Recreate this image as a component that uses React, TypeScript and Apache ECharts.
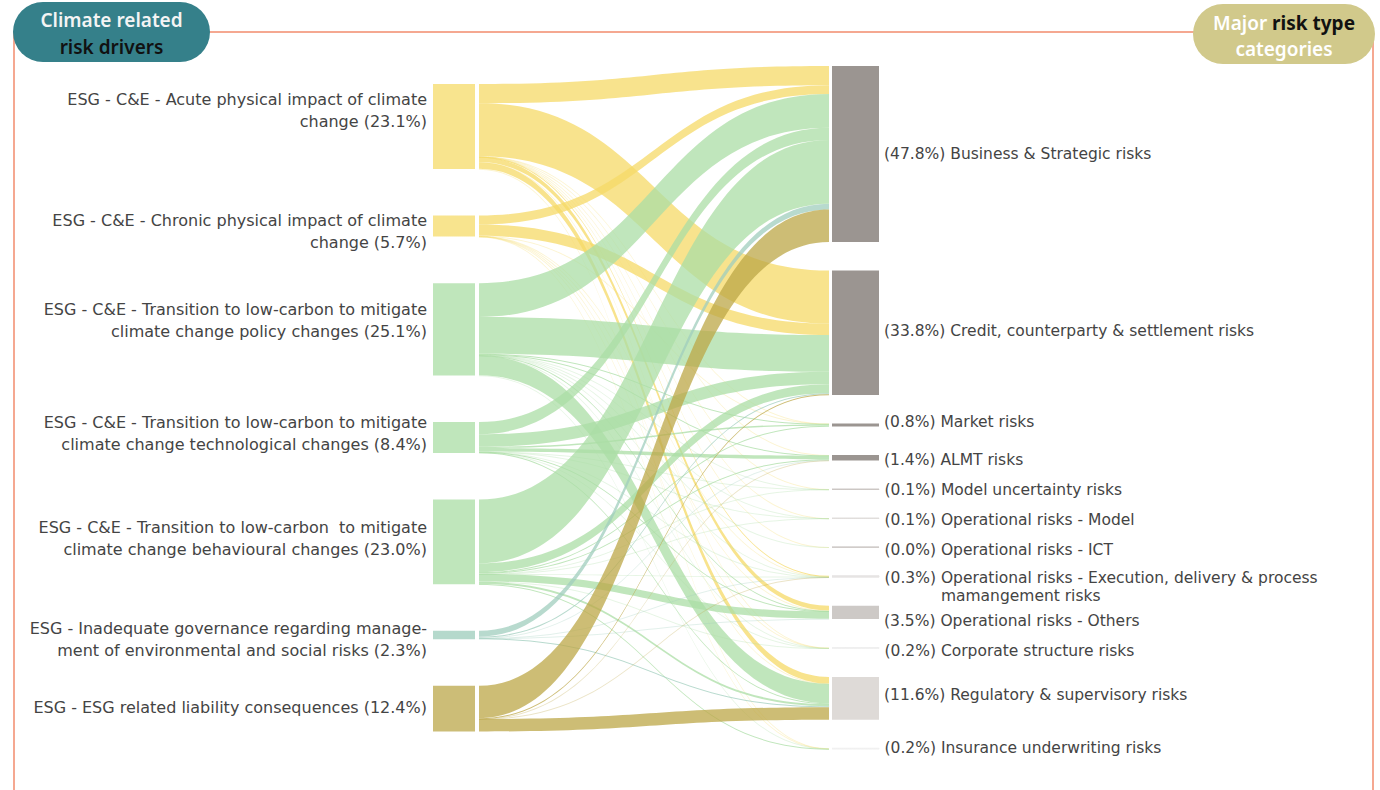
import React, { useEffect, useRef } from 'react';
import * as echarts from 'echarts';

// ---------- DATA ----------
const LEFT_LABELS = [
  'ESG - C&E - Acute physical impact of climate\nchange',
  'ESG - C&E - Chronic physical impact of climate\nchange',
  'ESG - C&E - Transition to low-carbon to mitigate\nclimate change policy changes',
  'ESG - C&E - Transition to low-carbon to mitigate\nclimate change technological changes',
  'ESG - C&E - Transition to low-carbon  to mitigate\nclimate change behavioural changes',
  'ESG - Inadequate governance regarding manage-\nment of environmental and social risks',
  'ESG - ESG related liability consequences',
];
const LEFT_PCT = [23.1, 5.7, 25.1, 8.4, 23.0, 2.3, 12.4];

const RIGHT_LABELS = [
  'Business & Strategic risks',
  'Credit, counterparty & settlement risks',
  'Market risks',
  'ALMT risks',
  'Model uncertainty risks',
  'Operational risks - Model',
  'Operational risks - ICT',
  'Operational risks - Execution, delivery & process\nmamangement risks',
  'Operational risks - Others',
  'Corporate structure risks',
  'Regulatory & supervisory risks',
  'Insurance underwriting risks',
];
const RIGHT_PCT = [47.8, 33.8, 0.8, 1.4, 0.1, 0.1, 0.0, 0.3, 3.5, 0.2, 11.6, 0.2];

// flows from each driver to each risk category (same order as RIGHT_LABELS), in %
const FLOW_ACUTE = [5.2, 14.4, 0.05, 0.05, 0.02, 0.02, 0.01, 0.15, 1.3, 0.05, 1.8, 0.05];
const FLOW_CHRONIC = [2.4, 3.1, 0.02, 0, 0, 0, 0, 0.05, 0.05, 0.02, 0.05, 0.01];
const FLOW_POLICY = [9.2, 10.0, 0.15, 0.1, 0.03, 0.03, 0.02, 0.05, 0.1, 0.05, 5.32, 0.05];
const FLOW_TECH = [3.3, 3.4, 0.35, 0.95, 0.03, 0.03, 0, 0.02, 0.1, 0.02, 0.2, 0];
const FLOW_BEHAV = [17.3, 2.4, 0.2, 0.25, 0.03, 0.03, 0, 0.03, 2.0, 0.06, 0.6, 0.1];
const FLOW_GOV = [1.6, 0.3, 0, 0.05, 0, 0, 0, 0.05, 0.05, 0, 0.25, 0];
const FLOW_LIAB = [8.8, 0.15, 0, 0.05, 0, 0, 0, 0.02, 0, 0, 3.38, 0];
const FLOWS = [FLOW_ACUTE, FLOW_CHRONIC, FLOW_POLICY, FLOW_TECH, FLOW_BEHAV, FLOW_GOV, FLOW_LIAB];

// ---------- STYLE ----------
const LEFT_COLORS = ['#f8e48e', '#f8e48e', '#bfe6bb', '#bfe6bb', '#bfe6bb', '#b5d9cc', '#ccbd77'];
const LINK_COLORS = ['#f6da67', '#f6da67', '#abdea6', '#abdea6', '#abdea6', '#a0cdbd', '#bca747'];
const RIGHT_COLORS = ['#9b9591', '#9b9591', '#9b9591', '#9b9591', '#cbc6c3', '#e0dddb', '#cbc6c3', '#e6e4e3', '#cdc9c6', '#eeeeee', '#dedad7', '#f0f0f0'];
const LEFT_LABEL_DY = [-16, 5, -9.3, -4.5, -3.8, 4.5, -0.8];
const RIGHT_LABEL_DY = [-0.4, -2, -3.5, 2, 1, 1.5, 2.5, 11, 9, 3.5, -3, -0.5];

const FONT = '"DejaVu Sans", sans-serif';
const HEAD_FONT = '"Noto Sans", sans-serif';
const LEFT_LABEL_SIZE = 16;
const RIGHT_LABEL_SIZE = 15.5;

const SERIES_LEFT = 429;
const SERIES_TOP = 66;
const SERIES_W = 450;
const SERIES_H = 683;
const NODE_W = 50;
const GAP_R = 28.6;
const LEFT_TOP = 18;
const LEFT_BOTTOM = 665.5;

const sum = (a: number[]) => a.reduce((s, v) => s + v, 0);
const T = 'rgba(255,255,255,0)';

function grad(stops: [number, string][]) {
  return {
    type: 'linear', x: 0, y: 0, x2: 1, y2: 0,
    colorStops: stops.map(([offset, color]) => ({ offset, color })),
  };
}

function measure(text: string, font: string) {
  const c = document.createElement('canvas').getContext('2d')!;
  c.font = font;
  return c.measureText(text).width;
}

export default function App() {
  const ref = useRef<HTMLDivElement>(null);
  useEffect(() => {
    document.body.style.margin = '0';
    const chart = echarts.init(ref.current!, undefined, { renderer: 'svg' });

    const leftVal = LEFT_PCT.map((p, i) => Math.max(p, sum(FLOWS[i])));
    const rightVal = RIGHT_PCT.map((p, j) => Math.max(p, sum(FLOWS.map((f) => f[j]))));
    const nL = leftVal.length;
    const nR = rightVal.length;
    const ky = Math.min(
      (SERIES_H - (nL - 1) * GAP_R) / sum(leftVal),
      (SERIES_H - (nR - 1) * GAP_R) / sum(rightVal)
    );
    const gapL = (LEFT_BOTTOM - LEFT_TOP - sum(leftVal) * ky) / (nL - 1);

    const leftNames = LEFT_LABELS.map((l) => l.replace('\n', ' '));
    const rightNames = RIGHT_LABELS.map((l) => l.replace('\n', ' '));

    const nodes: any[] = [];
    let y = LEFT_TOP;
    leftVal.forEach((v, i) => {
      const c = LEFT_COLORS[i];
      nodes.push({
        name: leftNames[i],
        value: v,
        localY: y / SERIES_H,
        itemStyle: {
          color: grad([[0, T], [4 / NODE_W, T], [4 / NODE_W, c], [46 / NODE_W, c], [46 / NODE_W, T], [1, T]]),
        },
        label: {
          position: 'left',
          distance: 2,
          align: 'right',
          fontSize: LEFT_LABEL_SIZE,
          lineHeight: 22,
          offset: [0, LEFT_LABEL_DY[i]],
          formatter: `${LEFT_LABELS[i]} (${LEFT_PCT[i].toFixed(1)}%)`,
        },
      });
      y += v * ky + gapL;
    });

    const indentW = measure('(0.3%) ', `${RIGHT_LABEL_SIZE}px "DejaVu Sans"`);
    rightVal.forEach((v, j) => {
      const c = RIGHT_COLORS[j];
      const g = grad([[0, T], [3.5 / NODE_W, T], [3.5 / NODE_W, c], [1, c]]);
      const parts = RIGHT_LABELS[j].split('\n');
      let text = `(${RIGHT_PCT[j].toFixed(1)}%) ${parts[0]}`;
      if (parts.length > 1) text += `\n{ind| }${parts[1]}`;
      nodes.push({
        name: rightNames[j],
        value: v,
        itemStyle: v < 0.5 ? { color: g, borderColor: g, borderWidth: 1 } : { color: g },
        label: {
          position: 'right',
          distance: 5,
          fontSize: RIGHT_LABEL_SIZE,
          lineHeight: 18,
          offset: [0, RIGHT_LABEL_DY[j]],
          formatter: text,
          rich: { ind: { width: indentW, lineHeight: 18 } },
        },
      });
    });

    const links: any[] = [];
    FLOWS.forEach((f, i) => {
      f.forEach((v, j) => {
        if (v <= 0) return;
        links.push({
          source: leftNames[i],
          target: rightNames[j],
          value: v,
          lineStyle: { color: LINK_COLORS[i], opacity: v < 0.1 ? 0.3 : 0.75 },
        });
      });
    });

    const option: any = {
      animation: false,
      backgroundColor: '#ffffff',
      graphic: [
        {
          type: 'polyline',
          shape: { points: [[14, 790], [14, 32], [1373, 32], [1373, 790]] },
          style: { stroke: '#f28c6e', lineWidth: 1.5, fill: null },
          z: 1,
        },
        {
          type: 'rect',
          shape: { x: 13, y: 2, width: 197, height: 60, r: 30 },
          style: { fill: '#35808a' },
          z: 2,
        },
        {
          type: 'text',
          x: 111.5, y: 20,
          style: {
            text: 'Climate related', fill: '#f4f4f4', font: `600 19px ${HEAD_FONT}`,
            align: 'center', verticalAlign: 'middle', textAlign: 'center', textVerticalAlign: 'middle',
          },
          z: 3,
        },
        {
          type: 'text',
          x: 111.5, y: 46.5,
          style: {
            text: 'risk drivers', fill: '#111111', font: `600 19px ${HEAD_FONT}`,
            align: 'center', verticalAlign: 'middle', textAlign: 'center', textVerticalAlign: 'middle',
          },
          z: 3,
        },
        {
          type: 'rect',
          shape: { x: 1193, y: 4, width: 182, height: 60, r: 30 },
          style: { fill: '#d1c98b' },
          z: 2,
        },
        {
          type: 'text',
          x: 1284, y: 23,
          style: {
            text: 'Major {b|risk type}', fill: '#ffffff', font: `600 19px ${HEAD_FONT}`,
            align: 'center', verticalAlign: 'middle', textAlign: 'center', textVerticalAlign: 'middle',
            rich: { b: { fill: '#111111', color: '#111111', font: `700 19px ${HEAD_FONT}`, fontSize: 19, fontWeight: 700, fontFamily: HEAD_FONT } },
          },
          z: 3,
        },
        {
          type: 'text',
          x: 1284, y: 48.5,
          style: {
            text: 'categories', fill: '#ffffff', font: `600 19px ${HEAD_FONT}`,
            align: 'center', verticalAlign: 'middle', textAlign: 'center', textVerticalAlign: 'middle',
          },
          z: 3,
        },
      ],
      series: [
        {
          type: 'sankey',
          left: SERIES_LEFT,
          top: SERIES_TOP,
          width: SERIES_W,
          height: SERIES_H,
          nodeWidth: NODE_W,
          nodeGap: GAP_R,
          layoutIterations: 0,
          nodeAlign: 'justify',
          draggable: false,
          emphasis: { disabled: true },
          label: { fontFamily: FONT, fontSize: RIGHT_LABEL_SIZE, color: '#444444' },
          lineStyle: { curveness: 0.5 },
          data: nodes,
          links,
        },
      ],
    };
    chart.setOption(option);
    return () => chart.dispose();
  }, []);
  return <div ref={ref} style={{ width: 1380, height: 790 }} />;
}
